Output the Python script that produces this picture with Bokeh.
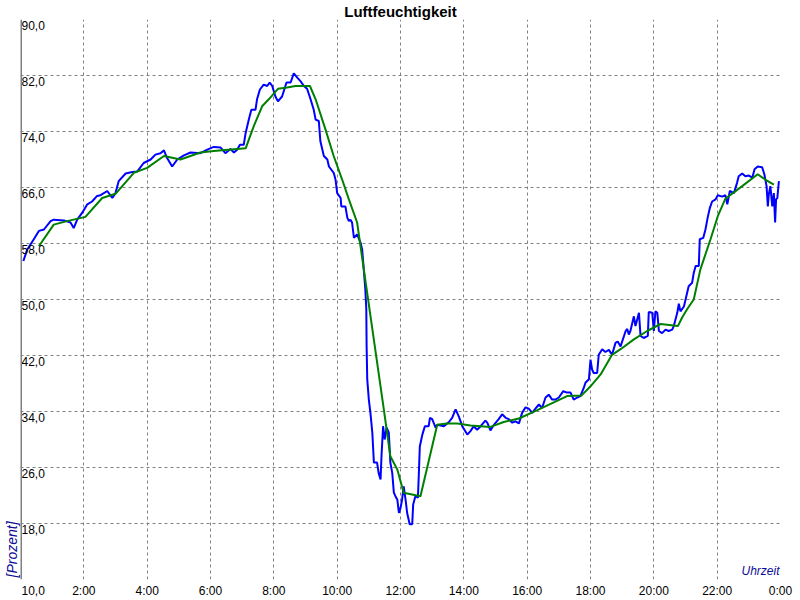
import math
from bokeh.plotting import figure
from bokeh.models import FixedTicker, Span, Label, Range1d, Title
from bokeh.core.properties import value
from bokeh.embed import file_html
from bokeh.resources import INLINE

TITLE = "Luftfeuchtigkeit"
Y_LABEL = "[Prozent]"
X_LABEL = "Uhrzeit"

x_ticks = [0, 2, 4, 6, 8, 10, 12, 14, 16, 18, 20, 22, 24]
x_tick_labels = ["0:00", "2:00", "4:00", "6:00", "8:00", "10:00", "12:00",
                 "14:00", "16:00", "18:00", "20:00", "22:00", "0:00"]
y_ticks = [10, 18, 26, 34, 42, 50, 58, 66, 74, 82, 90]
y_tick_labels = ["10,0", "18,0", "26,0", "34,0", "42,0", "50,0", "58,0",
                 "66,0", "74,0", "82,0", "90,0"]

# measured humidity (blue), time in hours
blue_hours = [
    0.09, 0.21, 0.42, 0.58, 0.74, 0.95, 1.05, 1.37, 1.58, 1.68, 1.79, 1.95,
    2.11, 2.26, 2.42, 2.53, 2.74, 2.90, 3.00, 3.10, 3.32, 3.53, 3.69, 3.89,
    4.11, 4.26, 4.42, 4.53, 4.63, 4.79, 4.95, 5.16, 5.37, 5.68, 5.90, 6.10,
    6.32, 6.47, 6.63, 6.74, 6.84, 6.93, 7.05, 7.11, 7.21, 7.29, 7.42, 7.47,
    7.56, 7.68, 7.79, 7.87, 7.95, 8.05, 8.13, 8.26, 8.40, 8.53, 8.63, 8.74,
    8.84, 8.95, 9.05, 9.16, 9.26, 9.32, 9.42, 9.47, 9.58, 9.69, 9.74, 9.89,
    9.95, 10.00, 10.11, 10.13, 10.26, 10.32, 10.37, 10.42, 10.47, 10.53,
    10.63, 10.74, 10.79, 10.84, 10.89, 10.92, 10.93, 10.95, 11.00, 11.05,
    11.11, 11.16, 11.26, 11.31, 11.37, 11.40, 11.45, 11.50, 11.56, 11.63,
    11.68, 11.74, 11.79, 11.84, 11.90, 11.95, 12.00, 12.05, 12.10, 12.16,
    12.21, 12.29, 12.37, 12.40, 12.47, 12.55, 12.58, 12.61, 12.69, 12.77,
    12.89, 12.93, 13.00, 13.11, 13.16, 13.37, 13.53, 13.63, 13.74, 13.84,
    13.95, 14.11, 14.21, 14.31, 14.42, 14.53, 14.68, 14.74, 14.84, 14.95,
    15.10, 15.21, 15.32, 15.42, 15.53, 15.63, 15.74, 15.84, 15.95, 16.05,
    16.16, 16.26, 16.37, 16.47, 16.58, 16.68, 16.79, 16.89, 17.00, 17.14,
    17.26, 17.37, 17.47, 17.58, 17.68, 17.79, 17.84, 17.95, 18.00, 18.05,
    18.10, 18.21, 18.26, 18.37, 18.47, 18.58, 18.68, 18.79, 18.86, 18.95,
    19.11, 19.16, 19.21, 19.26, 19.37, 19.42, 19.53, 19.58, 19.68, 19.81,
    19.84, 19.95, 20.00, 20.05, 20.11, 20.16, 20.26, 20.37, 20.47, 20.58,
    20.63, 20.74, 20.79, 20.84, 20.95, 21.10, 21.21, 21.26, 21.32, 21.42,
    21.45, 21.56, 21.63, 21.70, 21.77, 21.84, 21.95, 22.02, 22.16, 22.26,
    22.32, 22.40, 22.53, 22.63, 22.68, 22.79, 22.89, 23.00, 23.11, 23.18,
    23.28, 23.42, 23.49, 23.56, 23.60, 23.63, 23.68, 23.74, 23.79, 23.83,
    23.86, 23.90, 23.95,
]
blue_values = [
    55.5, 57.1, 58.6, 59.8, 60.0, 61.2, 61.4, 61.3, 61.0, 60.2, 61.4, 62.4,
    63.6, 64.0, 64.8, 64.9, 65.5, 64.5, 65.2, 66.9, 68.0, 68.2, 68.3, 69.5,
    70.0, 70.7, 70.9, 71.3, 70.2, 69.0, 70.0, 70.6, 71.0, 70.9, 71.4, 71.8,
    71.7, 70.9, 71.5, 71.0, 71.4, 72.1, 72.1, 73.8, 75.7, 77.1, 77.1, 78.6,
    80.0, 80.7, 80.5, 81.0, 80.5, 79.0, 78.3, 79.0, 81.0, 81.0, 82.3, 81.7,
    81.2, 80.5, 80.1, 78.6, 77.1, 75.7, 75.5, 72.6, 70.5, 70.0, 69.0, 68.1,
    67.1, 65.2, 64.5, 63.3, 63.3, 61.7, 61.2, 61.4, 61.0, 58.8,
    59.3, 58.1, 57.1, 54.3, 51.4, 48.6, 43.3, 38.6, 35.7, 33.8,
    31.0, 26.7, 26.7, 25.2, 24.3, 27.6, 31.9, 30.0, 31.7, 31.0,
    26.7, 25.2, 22.4, 21.9, 21.4, 19.5, 20.2, 21.4, 23.3, 21.4,
    19.5, 17.9, 17.9, 20.7, 21.9, 21.7, 25.2, 29.0, 30.7, 31.9,
    31.9, 33.1, 32.9, 31.7, 32.1, 31.9, 32.5, 33.1, 34.3, 33.3,
    31.9, 30.7, 31.2, 31.9, 31.4, 31.9, 32.7, 32.4, 31.3, 32.1,
    32.9, 33.6, 33.1, 32.9, 32.4, 32.6, 32.3, 33.8, 34.6, 34.4,
    33.8, 34.4, 35.0, 34.5, 36.0, 36.4, 35.7, 35.7, 36.0, 36.9,
    36.7, 36.7, 35.7, 36.0, 36.2, 37.4, 38.1, 38.6, 41.4, 40.0,
    39.5, 39.5, 42.1, 42.9, 42.5, 42.8, 42.1, 43.8, 44.0, 43.3,
    45.5, 45.8, 45.0, 45.5, 47.6, 46.2, 48.1, 44.8, 44.5, 44.8,
    48.2, 48.1, 45.5, 48.3, 48.1, 45.5, 45.2, 45.7, 45.5, 45.7,
    46.2, 48.1, 49.4, 48.3, 49.0, 51.9, 52.4, 53.8, 54.8, 54.8,
    58.6, 58.8, 60.0, 61.7, 63.1, 64.0, 64.3, 64.9, 64.7, 64.9,
    63.6, 65.5, 65.2, 66.7, 67.6, 68.0, 67.6, 67.7, 67.4, 68.6,
    69.0, 68.9, 67.9, 66.2, 63.3, 65.0, 66.2, 63.3, 65.2, 61.0,
    64.3, 64.5, 66.9,
]

# averaged humidity (green), time in hours
green_hours = [
    0.58, 1.05, 1.47, 2.05, 2.58, 3.00, 3.58, 4.00, 4.53, 5.05, 5.68, 6.10,
    7.11, 7.37, 7.63, 7.84, 8.13, 8.42, 8.68, 9.14, 9.32, 9.63, 9.89, 10.16,
    10.37, 10.63, 11.05, 11.47, 11.68, 11.90, 12.10, 12.63, 13.16, 13.47,
    13.79, 14.21, 14.84, 15.26, 15.74, 16.32, 16.74, 17.26, 17.72, 18.00,
    18.32, 18.68, 18.95, 19.37, 19.79, 20.21, 20.42, 20.76, 20.89, 21.05,
    21.26, 21.47, 21.79, 22.02, 22.26, 22.79, 23.28, 23.53, 23.79,
]
green_values = [
    57.6, 60.7, 61.2, 61.8, 64.5, 65.1, 68.1, 68.8, 70.5, 70.0, 71.0, 71.2,
    71.6, 74.8, 77.6, 78.6, 80.1, 80.3, 80.5, 80.5, 78.6, 74.3, 70.5, 67.1,
    64.3, 61.0, 47.7, 34.4, 27.6, 25.7, 22.4, 21.9, 32.1, 32.3,
    32.3, 32.0, 31.8, 32.5, 33.0, 34.2, 35.1, 36.2, 36.3, 37.6,
    39.3, 42.1, 42.9, 44.3, 45.5, 46.5, 46.4, 46.2, 47.4, 48.6,
    50.0, 54.3, 58.6, 61.9, 64.4, 66.2, 67.9, 67.1, 66.4,
]

FONT = "Liberation Sans"
NAVY = "#0c0c96"
# where the bottom y label "10,0" sits along the time axis (layout only)
BOTTOM_LABEL_POS = 0.4

p = figure(width=800, height=600, output_backend="svg", toolbar_location=None,
           x_range=Range1d(0, 24), y_range=Range1d(10, 90),
           y_axis_location=None,
           min_border_left=20, min_border_right=20,
           min_border_top=0, min_border_bottom=20)
p.outline_line_color = None
p.background_fill_color = "white"
p.border_fill_color = "white"

p.title.text = TITLE
p.title.text_font = FONT
p.title.text_font_size = "15px"
p.title.text_font_style = "bold"
p.title.text_color = "black"
p.title.align = "center"
p.title.standoff = 0
p.title.offset = 0

# vertical unit label at the lower left, outside the plot area
p.add_layout(Title(text=Y_LABEL, align="left", text_font=FONT,
                   text_font_size="14px", text_font_style="italic",
                   text_color=NAVY, offset=2, standoff=1), "left")

# x axis: labels only; the bottom y label "10,0" takes the place of 0:00
xa = p.xaxis[0]
axis_ticks = [BOTTOM_LABEL_POS] + x_ticks[1:]
overrides = {t: lab for t, lab in zip(x_ticks[1:], x_tick_labels[1:])}
overrides[BOTTOM_LABEL_POS] = y_tick_labels[0]
xa.ticker = FixedTicker(ticks=axis_ticks)
xa.major_label_overrides = overrides
xa.axis_line_color = None
xa.major_tick_line_color = None
xa.minor_tick_line_color = None
xa.major_tick_in = 0
xa.major_tick_out = 0
xa.major_label_standoff = 4
xa.major_label_text_font = FONT
xa.major_label_text_font_size = "12px"
xa.major_label_text_color = "black"

# grid
p.xgrid.ticker = FixedTicker(ticks=x_ticks)
p.ygrid.ticker = FixedTicker(ticks=y_ticks)
for g in (p.xgrid, p.ygrid):
    g.grid_line_color = "#808080"
    g.grid_line_dash = "3 3"
    g.grid_line_width = 1

# data lines
p.line(blue_hours, blue_values, line_color="#0000ff", line_width=2)
p.line(green_hours, green_values, line_color="#008000", line_width=2)

# left axis line
p.add_layout(Span(location=0, dimension="height", line_color="#808080",
                  line_width=3))

# y tick labels drawn inside the plot
p.text(x=[0] * (len(y_ticks) - 1), y=y_ticks[1:], text=y_tick_labels[1:],
       text_font=value(FONT), text_font_size="12px", text_color="black",
       text_align="left", text_baseline="top", x_offset=1, y_offset=1)

p.add_layout(Label(x=24, y=10, text=X_LABEL, text_font=FONT,
                   text_font_size="12px", text_font_style="italic",
                   text_color=NAVY, text_align="right",
                   text_baseline="bottom", x_offset=-1, y_offset=2))

open("out.html", "w").write(file_html(p, INLINE))
